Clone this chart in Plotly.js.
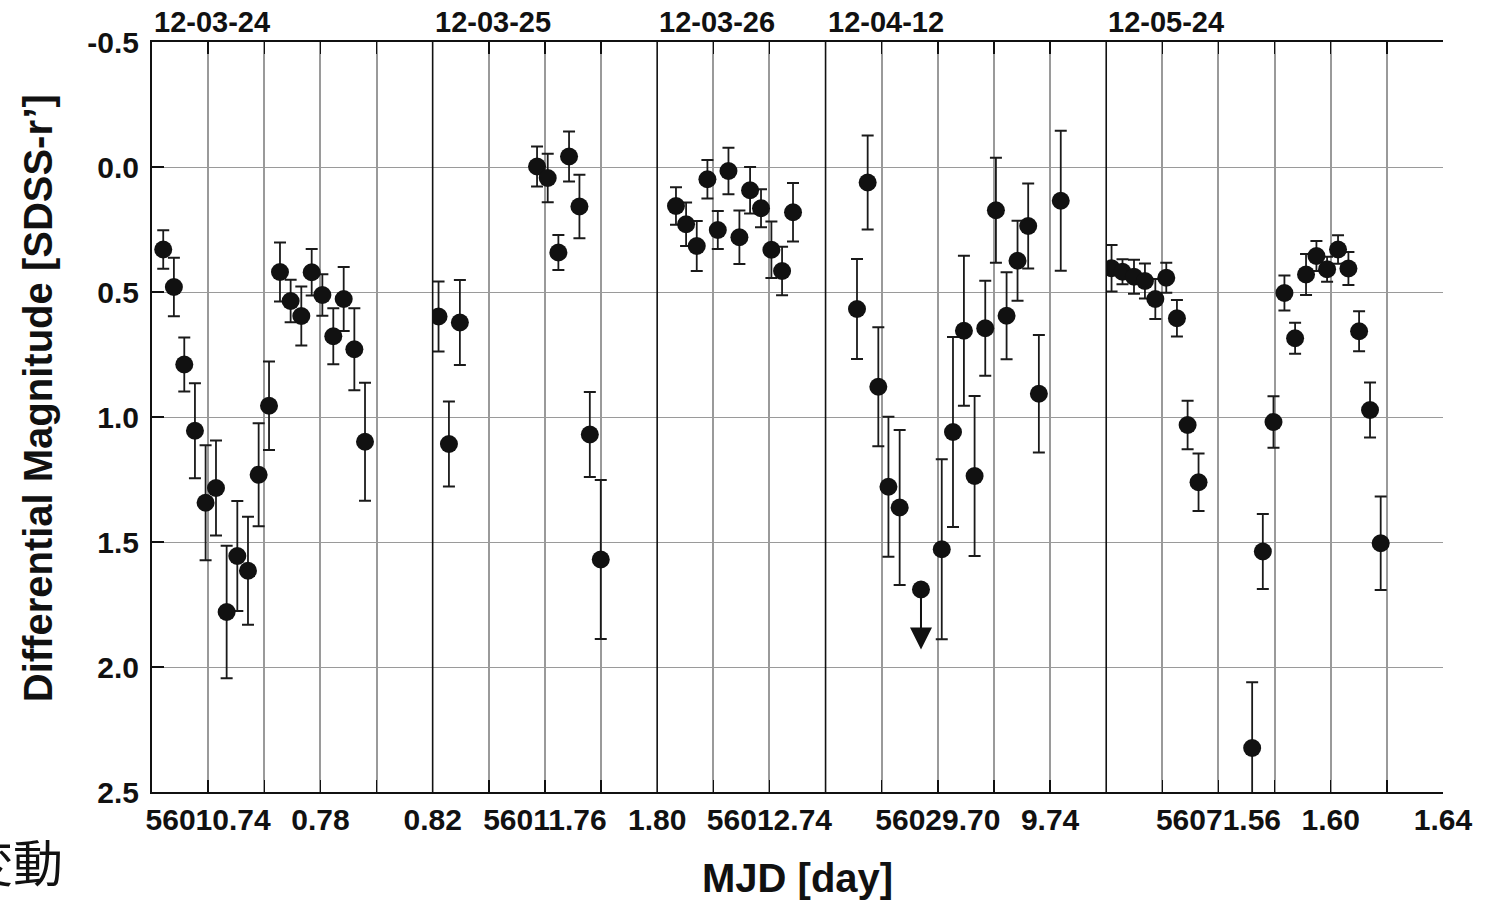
<!DOCTYPE html>
<html>
<head>
<meta charset="utf-8">
<script src="https://cdn.plot.ly/plotly-3.0.1.min.js"></script>
<style>html,body{margin:0;padding:0;background:#fff;}#chart{width:1490px;height:900px;}</style>
</head>
<body>
<div id="chart"></div>
<script>
// ---- Data (MJD, differential magnitude, 1-sigma error) ----
const dateLabels = ['12-03-24', '12-03-25', '12-03-26', '12-04-12', '12-05-24'];

const seg1Range = [56010.72, 56010.82];
const seg2Range = [56011.72, 56011.80];
const seg3Range = [56012.70, 56012.76];
const seg4Range = [56029.66, 56029.76];
const seg5Range = [56071.52, 56071.64];

const seg1TickVals = [56010.72, 56010.74, 56010.76, 56010.78, 56010.80, 56010.82];
const seg1TickText = ['', '56010.74', '', '0.78', '', '0.82'];
const seg2TickVals = [56011.72, 56011.74, 56011.76, 56011.78, 56011.80];
const seg2TickText = ['', '', '56011.76', '', '1.80'];
const seg3TickVals = [56012.70, 56012.72, 56012.74, 56012.76];
const seg3TickText = ['', '', '56012.74', ''];
const seg4TickVals = [56029.66, 56029.68, 56029.70, 56029.72, 56029.74, 56029.76];
const seg4TickText = ['', '', '56029.70', '', '9.74', ''];
const seg5TickVals = [56071.52, 56071.54, 56071.56, 56071.58, 56071.60, 56071.62, 56071.64];
const seg5TickText = ['', '', '56071.56', '', '1.60', '', '1.64'];

const yTickVals = [-0.5, 0.0, 0.5, 1.0, 1.5, 2.0, 2.5];
const yTickText = ['-0.5', '0.0', '0.5', '1.0', '1.5', '2.0', '2.5'];

const seg1Mjd = [56010.7240, 56010.7278, 56010.7315, 56010.7353, 56010.7391, 56010.7428, 56010.7466, 56010.7504, 56010.7542, 56010.7580,
                 56010.7617, 56010.7656, 56010.7694, 56010.7732, 56010.7769, 56010.7807, 56010.7846, 56010.7883, 56010.7921, 56010.7959];
const seg1Mag = [0.33, 0.48, 0.79, 1.055, 1.343, 1.284, 1.78, 1.556, 1.615, 1.231,
                 0.955, 0.42, 0.536, 0.596, 0.421, 0.512, 0.677, 0.528, 0.729, 1.099];
const seg1Err = [0.077, 0.117, 0.108, 0.19, 0.23, 0.19, 0.265, 0.22, 0.216, 0.206,
                 0.177, 0.118, 0.085, 0.118, 0.093, 0.083, 0.112, 0.128, 0.164, 0.236];

const seg2Mjd = [56011.7221, 56011.7258, 56011.7297, 56011.7572, 56011.7610, 56011.7648, 56011.7686, 56011.7723, 56011.7760, 56011.7799];
const seg2Mag = [0.598, 1.108, 0.622, -0.002, 0.044, 0.342, -0.042, 0.158, 1.07, 1.57];
const seg2Err = [0.14, 0.17, 0.17, 0.08, 0.097, 0.07, 0.1, 0.127, 0.17, 0.318];

const seg3Mjd = [56012.7067, 56012.7103, 56012.7141, 56012.7179, 56012.7216, 56012.7254, 56012.7293, 56012.7331, 56012.7370, 56012.7407, 56012.7445, 56012.7484];
const seg3Mag = [0.156, 0.229, 0.316, 0.049, 0.252, 0.016, 0.281, 0.093, 0.165, 0.331, 0.416, 0.181];
const seg3Err = [0.075, 0.087, 0.1, 0.077, 0.076, 0.093, 0.107, 0.093, 0.076, 0.113, 0.097, 0.117];

const seg4Mjd = [56029.6712, 56029.6750, 56029.6788, 56029.6824, 56029.6864, 56029.7014, 56029.7054, 56029.7093, 56029.7131,
                 56029.7169, 56029.7207, 56029.7245, 56029.7284, 56029.7322, 56029.7360, 56029.7438];
const seg4Mag = [0.568, 0.062, 0.879, 1.279, 1.362, 1.529, 1.06, 0.655, 1.236,
                 0.645, 0.173, 0.595, 0.375, 0.236, 0.907, 0.135];
const seg4Err = [0.2, 0.188, 0.238, 0.28, 0.31, 0.36, 0.38, 0.3, 0.32,
                 0.19, 0.21, 0.174, 0.16, 0.17, 0.235, 0.28];

// upper limit (no detection) in segment 4
const limMjd = [56029.6940];
const limMag = [1.69];
const limArrowTip = [1.93];

const seg5Mjd = [56071.5219, 56071.5258, 56071.5299, 56071.5338, 56071.5375, 56071.5414, 56071.5452, 56071.5490, 56071.5529,
                 56071.5720, 56071.5758, 56071.5796, 56071.5835, 56071.5873, 56071.5912, 56071.5949, 56071.5987, 56071.6026,
                 56071.6063, 56071.6101, 56071.6140, 56071.6178];
const seg5Mag = [0.405, 0.419, 0.439, 0.456, 0.528, 0.443, 0.605, 1.032, 1.261,
                 2.324, 1.538, 1.02, 0.504, 0.685, 0.43, 0.356, 0.409, 0.33,
                 0.406, 0.657, 0.972, 1.505];
const seg5Err = [0.093, 0.05, 0.068, 0.07, 0.08, 0.06, 0.073, 0.097, 0.115,
                 0.263, 0.15, 0.103, 0.07, 0.062, 0.082, 0.06, 0.05, 0.057,
                 0.066, 0.08, 0.11, 0.187];

// ---- Build ----
const segs = [
  {range: seg1Range, tv: seg1TickVals, tt: seg1TickText, x: seg1Mjd, y: seg1Mag, e: seg1Err},
  {range: seg2Range, tv: seg2TickVals, tt: seg2TickText, x: seg2Mjd, y: seg2Mag, e: seg2Err},
  {range: seg3Range, tv: seg3TickVals, tt: seg3TickText, x: seg3Mjd, y: seg3Mag, e: seg3Err},
  {range: seg4Range, tv: seg4TickVals, tt: seg4TickText, x: seg4Mjd, y: seg4Mag, e: seg4Err},
  {range: seg5Range, tv: seg5TickVals, tt: seg5TickText, x: seg5Mjd, y: seg5Mag, e: seg5Err}
];

const FONT = 'Liberation Sans, Arial, Helvetica, sans-serif';
const INK = '#111111';
const GRID = '#9a9a9a';

const spans = segs.map(s => s.range[1] - s.range[0]);
const total = spans.reduce((a, b) => a + b, 0);
let acc = 0;
const domains = spans.map(sp => { const d = [acc / total, (acc + sp) / total]; acc += sp; return d; });
domains[domains.length - 1][1] = 1;

const data = [];
const layout = {
  width: 1490, height: 900,
  margin: {l: 152, r: 47, t: 42, b: 108},
  paper_bgcolor: '#ffffff', plot_bgcolor: '#ffffff',
  showlegend: false,
  font: {family: FONT, color: INK, size: 30, weight: 'bold'},
  annotations: [],
  shapes: [],
  yaxis: {
    range: [2.5, -0.5], autorange: false, anchor: 'x',
    tickmode: 'array', tickvals: yTickVals, ticktext: yTickText,
    ticks: 'inside', ticklen: 12, tickwidth: 1.5, tickcolor: INK,
    showline: true, linecolor: INK, linewidth: 2, mirror: false,
    showgrid: true, gridcolor: GRID, gridwidth: 1, zeroline: false,
    tickfont: {family: FONT, size: 30, color: INK, weight: 'bold'},
    ticklabelstandoff: 5
  },
  yaxis2: {
    range: [2.5, -0.5], autorange: false, overlaying: 'y', anchor: 'x5', side: 'right',
    tickmode: 'array', tickvals: yTickVals,
    ticks: 'inside', ticklen: 12, tickwidth: 1.5, tickcolor: INK,
    showticklabels: false, showgrid: false, zeroline: false,
    showline: true, linecolor: INK, linewidth: 2
  }
};

segs.forEach((s, i) => {
  const xid = i === 0 ? 'x' : 'x' + (i + 1);
  const key = i === 0 ? 'xaxis' : 'xaxis' + (i + 1);
  layout[key] = {
    domain: domains[i], range: s.range, autorange: false, anchor: 'y',
    tickmode: 'array', tickvals: s.tv, ticktext: s.tt,
    ticks: 'inside', ticklen: 12, tickwidth: 1.5, tickcolor: INK,
    showline: true, linecolor: INK, linewidth: 2, mirror: 'ticks',
    showgrid: true, gridcolor: GRID, gridwidth: 2, zeroline: false,
    tickfont: {family: FONT, size: 30, color: INK, weight: 'bold'},
    ticklabelstandoff: 0
  };
  data.push({
    type: 'scatter', mode: 'markers', x: s.x, y: s.y, xaxis: xid, yaxis: 'y',
    marker: {size: 18, color: INK},
    error_y: {type: 'data', array: s.e, visible: true, color: '#1a1a1a', thickness: 1.8, width: 6},
    cliponaxis: true, hoverinfo: 'x+y'
  });
  if (i > 0) {
    layout.shapes.push({
      type: 'line', xref: xid + ' domain', yref: 'paper', x0: 0, x1: 0, y0: 0, y1: 1,
      line: {color: INK, width: 1.6}
    });
  }
  layout.annotations.push({
    xref: xid + ' domain', yref: 'paper', x: 0, y: 1, xanchor: 'left', yanchor: 'bottom',
    xshift: 0, yshift: 2, showarrow: false, text: dateLabels[i],
    font: {family: FONT, size: 29, color: INK, weight: 'bold'}
  });
});

// upper limit point with downward arrow
data.push({
  type: 'scatter', mode: 'markers', x: limMjd, y: limMag, xaxis: 'x4', yaxis: 'y',
  marker: {size: 18, color: INK}, cliponaxis: true
});
limMjd.forEach((m, k) => {
  layout.annotations.push({
    xref: 'x4', yref: 'y', axref: 'x4', ayref: 'y',
    x: m, y: limArrowTip[k], ax: m, ay: limMag[k],
    showarrow: true, arrowhead: 2, arrowsize: 2.2, arrowwidth: 2, arrowcolor: INK, text: '', standoff: 0
  });
});

// axis titles
layout.annotations.push({
  xref: 'paper', yref: 'paper', x: 0.5, y: -0.1147, xanchor: 'center', yanchor: 'middle',
  showarrow: false, text: 'MJD [day]', font: {family: FONT, size: 40, color: INK, weight: 'bold'}
});
layout.annotations.push({
  xref: 'paper', yref: 'paper', x: -0.0883, y: 0.525, xanchor: 'center', yanchor: 'middle',
  textangle: -90, showarrow: false, text: 'Differential Magnitude [SDSS-r\u2019]',
  font: {family: FONT, size: 40, color: INK, weight: 'bold'}
});
// cropped caption fragment at lower left
layout.annotations.push({
  xref: 'paper', yref: 'paper', x: -0.0674, y: -0.0907, xanchor: 'right', yanchor: 'middle',
  showarrow: false, text: '変動', font: {family: 'Noto Sans CJK JP', size: 50, color: INK, weight: 'normal'}
});

Plotly.newPlot('chart', data, layout, {displayModeBar: false, staticPlot: true});
</script>
</body>
</html>
